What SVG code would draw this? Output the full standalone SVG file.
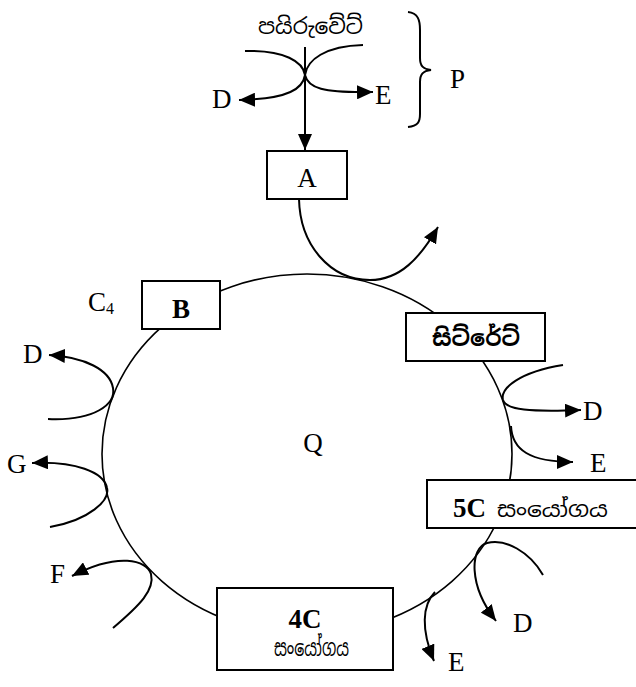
<svg xmlns="http://www.w3.org/2000/svg" width="636" height="687" viewBox="0 0 636 687">
  <defs>
    <marker id="arrow" markerUnits="userSpaceOnUse" markerWidth="17" markerHeight="14" refX="16" refY="7" orient="auto">
      <path d="M0,0 L16,7 L0,14 z" fill="#000"/>
    </marker>
    <style>
      .lbl { font-family: "Liberation Serif", "Times New Roman", serif; font-size: 27px; fill: #000; }
      .bold { font-weight: bold; }
      .si { font-family: "Noto Sans Sinhala", "Noto Serif Sinhala", "Iskoola Pota", "Liberation Serif", serif; fill: #000; }
      .box { fill: #fff; stroke: #000; stroke-width: 2; }
      .flow { fill: none; stroke: #000; stroke-width: 2; }
      .arr { fill: none; stroke: #000; stroke-width: 2; marker-end: url(#arrow); }
      .cycle { fill: none; stroke: #000; stroke-width: 1.6; }
    </style>
  </defs>

  <!-- cycle ring and branching connectors -->
  <g id="connectors">
    <ellipse class="cycle" cx="307" cy="454" rx="205" ry="180"/>
    <!-- pyruvate entry -->
    <path class="arr" d="M305,47 L305,150"/>
    <path class="arr" d="M245,51 C285,50 303,62 305,75 C308,88 322,93 373,92"/>
    <path class="arr" d="M363,45 C325,46 307,60 305,75 C303,88 290,99 239,100"/>
    <!-- A into cycle -->
    <path class="arr" d="M299,199 C300,245 330,280 370,280 C400,280 420,258 438,227"/>
    <!-- branches on the right -->
    <path class="arr" d="M563,365 C520,372 500,388 503,400 C506,410 530,412 581,410"/>
    <path class="arr" d="M511,426 C512,450 530,462 573,462"/>
    <path class="arr" d="M543,575 C530,552 505,538 487,543 C470,548 468,585 496,621"/>
    <path class="arr" d="M435,592 C422,605 421,630 434,661"/>
    <!-- branches on the left -->
    <path class="arr" d="M113,628 C140,605 155,590 151,574 C147,560 118,552 72,576"/>
    <path class="arr" d="M50,527 C90,520 110,500 107,488 C104,472 75,461 32,463"/>
    <path class="arr" d="M48,419 C95,421 116,404 113,388 C110,370 85,357 49,355"/>
    <!-- brace -->
    <path class="flow" d="M408,12 C418,13 420,20 420,30 L420,58 C420,66 423,69 431,70 C423,71 420,74 420,82 L420,114 C420,122 418,126 408,127"/>
  </g>

  <g id="pyruvate">
    <text class="si" x="258" y="34" font-size="22" textLength="105" lengthAdjust="spacingAndGlyphs">පයිරුවේට්</text>
  </g>
  <g id="P">
    <text class="lbl" x="450" y="88">P</text>
  </g>
  <g id="top-D"><text class="lbl" x="212" y="108">D</text></g>
  <g id="top-E"><text class="lbl" x="375" y="104">E</text></g>

  <g id="A">
    <rect class="box" x="267" y="151" width="80" height="48"/>
    <text class="lbl" x="307" y="187" text-anchor="middle">A</text>
  </g>

  <g id="B">
    <rect class="box" x="142" y="281" width="78" height="48"/>
    <text class="lbl bold" x="181" y="318" text-anchor="middle">B</text>
  </g>
  <g id="C4">
    <text class="lbl" x="88" y="311" font-size="26">C<tspan font-size="16" dy="3">4</tspan></text>
  </g>

  <g id="citrate">
    <rect class="box" x="406" y="313" width="139" height="48"/>
    <text class="si bold" x="432" y="346" font-size="23" textLength="88" lengthAdjust="spacingAndGlyphs">සිට්රේට්</text>
  </g>

  <g id="c5">
    <rect class="box" x="427" y="480" width="212" height="48"/>
    <text class="lbl bold" x="453" y="517">5C</text>
    <text class="si" x="497" y="517" font-size="21" textLength="111" lengthAdjust="spacingAndGlyphs">සංයෝගය</text>
  </g>

  <g id="c4">
    <rect class="box" x="217" y="588" width="176" height="82"/>
    <text class="lbl bold" x="305" y="628" text-anchor="middle">4C</text>
    <text class="si" x="274" y="656" font-size="23" textLength="75" lengthAdjust="spacingAndGlyphs">සංයෝගය</text>
  </g>

  <g id="Q"><text class="lbl" x="313" y="452" text-anchor="middle">Q</text></g>

  <g id="labels-right">
    <text class="lbl" x="583" y="420">D</text>
    <text class="lbl" x="590" y="472">E</text>
    <text class="lbl" x="513" y="632">D</text>
    <text class="lbl" x="448" y="671">E</text>
  </g>
  <g id="labels-left">
    <text class="lbl" x="23" y="363">D</text>
    <text class="lbl" x="7" y="473">G</text>
    <text class="lbl" x="50" y="583">F</text>
  </g>
</svg>
